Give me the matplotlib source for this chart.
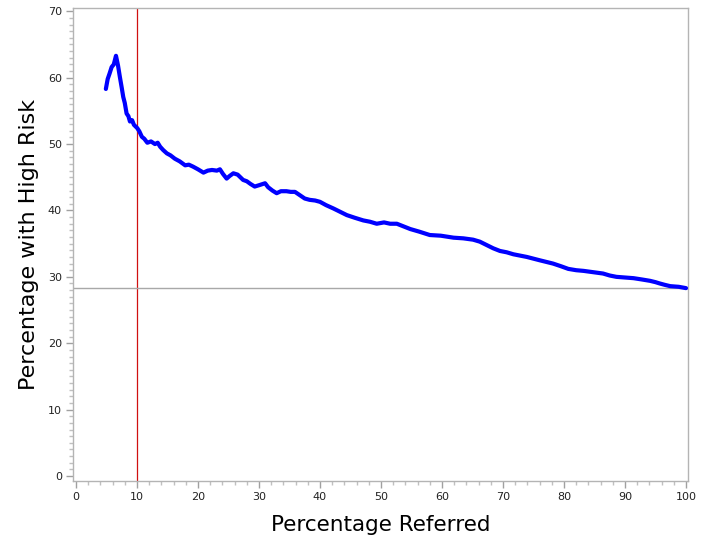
import matplotlib.pyplot as plt
from matplotlib.ticker import MultipleLocator

# Percentage referred vs percentage with high risk
pct_referred = [4.9, 5.2, 5.5, 5.85, 6.2, 6.56, 6.9, 7.2, 7.5, 7.75, 8.0, 8.3, 8.6, 8.85,
                9.2, 9.5, 10.05, 10.4, 10.8, 11.2, 11.7, 12.3, 12.95, 13.4, 13.8, 14.3,
                14.9, 15.5, 16.2, 17.0, 17.9, 18.5, 19.2, 20.0, 20.9, 21.6, 22.3, 23.1,
                23.6, 24.1, 24.7, 25.2, 25.8, 26.5, 27.4, 28.0, 28.6, 29.3, 30.0, 31.0,
                31.5, 32.2, 32.9, 33.6, 34.5, 35.2, 35.9, 36.7, 37.5, 38.3, 39.2, 40.0,
                41.0, 42.2, 43.3, 44.4, 45.7, 47.1, 48.2, 49.3, 50.5, 51.5, 52.6, 53.7,
                54.8, 56.3, 58.0, 59.8, 61.9, 63.5, 65.1, 66.2, 67.3, 68.4, 69.5, 70.6,
                71.7, 72.8, 73.9, 76.0, 78.2, 79.5, 80.7, 82.0, 83.2, 84.8, 86.4, 87.5,
                88.6, 90.0, 91.4, 92.8, 94.1, 95.0, 95.7, 96.5, 97.4, 98.8, 100.0]
pct_high_risk = [58.3, 59.8, 60.6, 61.6, 62.0, 63.3, 61.8, 60.1, 58.5, 57.1, 56.2, 54.6,
                 54.2, 53.4, 53.6, 52.9, 52.4, 51.9, 51.1, 50.8, 50.2, 50.4, 50.0, 50.2,
                 49.6, 49.1, 48.6, 48.3, 47.8, 47.4, 46.8, 46.9, 46.6, 46.2, 45.7, 46.0,
                 46.1, 46.0, 46.2, 45.5, 44.8, 45.2, 45.6, 45.4, 44.6, 44.4, 44.0, 43.6,
                 43.8, 44.1, 43.5, 43.0, 42.6, 42.9, 42.9, 42.8, 42.8, 42.3, 41.8, 41.6,
                 41.5, 41.3, 40.8, 40.3, 39.8, 39.3, 38.9, 38.5, 38.3, 38.0, 38.2, 38.0,
                 38.0, 37.6, 37.2, 36.8, 36.3, 36.2, 35.9, 35.8, 35.6, 35.3, 34.8, 34.3,
                 33.9, 33.7, 33.4, 33.2, 33.0, 32.5, 32.0, 31.6, 31.2, 31.0, 30.9, 30.7,
                 30.5, 30.2, 30.0, 29.9, 29.8, 29.6, 29.4, 29.2, 29.0, 28.8, 28.6, 28.5, 28.3]

cutoff_referred = 10
overall_risk = 28.3

fig = plt.figure(figsize=(7.03, 5.43), dpi=100)
ax = fig.add_axes([0.1038, 0.1142, 0.8749, 0.8711])

ax.plot(pct_referred, pct_high_risk, color='#0000ff', lw=3.0, solid_capstyle='round',
        solid_joinstyle='round', zorder=3)
ax.axvline(cutoff_referred, color='#d01010', lw=0.9, zorder=2)
ax.axhline(overall_risk, color='#a8a8a8', lw=1.0, zorder=2)

ax.set_xlim(-0.49, 100.33)
ax.set_ylim(-0.75, 70.5)
ax.xaxis.set_major_locator(MultipleLocator(10))
ax.xaxis.set_minor_locator(MultipleLocator(2))
ax.yaxis.set_major_locator(MultipleLocator(10))
ax.yaxis.set_minor_locator(MultipleLocator(1))

for sp in ax.spines.values():
    sp.set_color('#b4b4b4')
    sp.set_linewidth(1.0)
ax.tick_params(which='major', length=5, width=1, color='#a0a0a0', labelsize=8,
               labelcolor='#222222', pad=3)
ax.tick_params(which='minor', length=3, width=1, color='#c0c0c0')

ax.set_xlabel('Percentage Referred', fontsize=15.5, labelpad=9)
ax.set_ylabel('Percentage with High Risk', fontsize=16, labelpad=6)

fig.savefig('out.png', dpi=100)
